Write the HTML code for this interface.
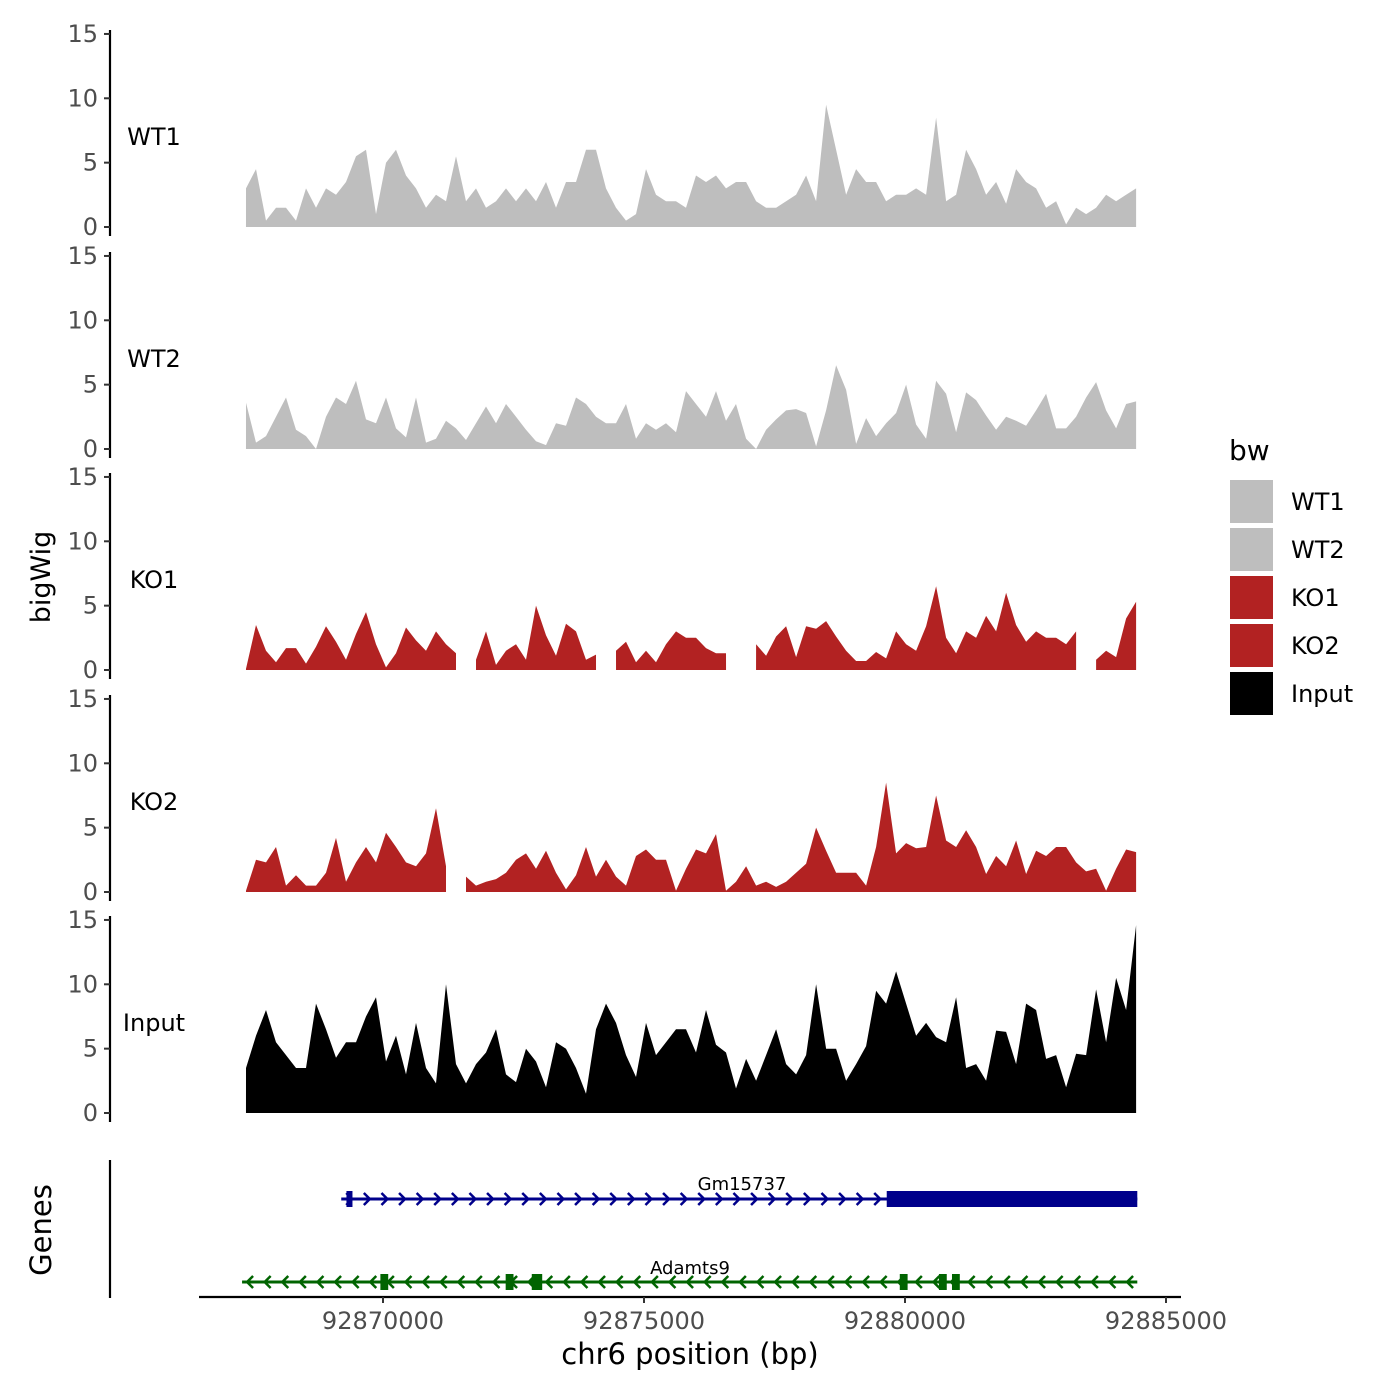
<!DOCTYPE html>
<html><head><meta charset="utf-8">
<style>
body{margin:0;background:#fff;}
svg{display:block;font-family:"DejaVu Sans","Liberation Sans",sans-serif;}
.tick{fill:#4d4d4d;font-size:24px;}
</style></head>
<body>
<svg id="chart" width="1400" height="1400" viewBox="0 0 1400 1400">
<rect width="1400" height="1400" fill="#fff"/>
<g id="tracks"></g>
<g id="genes"></g>
<text x="50" y="577" font-size="27" text-anchor="middle" transform="rotate(-90 50 577)">bigWig</text>
<text x="51" y="1230" font-size="29" text-anchor="middle" transform="rotate(-90 51 1230)">Genes</text>
<line x1="110" y1="1160" x2="110" y2="1298" stroke="#000" stroke-width="2.2"/>
<g id="xaxis"></g>
<text x="690" y="1364" font-size="29" text-anchor="middle">chr6 position (bp)</text>
<g>
<text x="1229" y="460" font-size="28">bw</text>
<g id="legend"></g>
</g>
</svg>
<script>
const trackNames = ["WT1","WT2","KO1","KO2","Input"];
const trackColors = ["#BEBEBE","#BEBEBE","#B22222","#B22222","#000000"];
const yTicks = [0,5,10,15];
const xTicks = [92870000,92875000,92880000,92885000];
const binStart = 92867375;
const binSize = 191.6;
const wt1 = [3,4.5,0.5,1.5,1.5,0.5,3,1.5,3,2.5,3.5,5.5,6,1,5,6,4,3,1.5,2.5,2,5.5,2,3,1.5,2,3,2,3,2,3.5,1.5,3.5,3.5,6,6,3,1.5,0.5,1,4.5,2.5,2,2,1.5,4,3.5,4,3,3.5,3.5,2,1.5,1.5,2,2.5,4,2,9.5,6,2.5,4.5,3.5,3.5,2,2.5,2.5,3,2.5,8.5,2,2.5,6,4.5,2.5,3.5,1.8,4.5,3.5,3,1.5,2,0.2,1.5,1,1.5,2.5,2,2.5,3];
const wt2 = [3.6,0.5,1,2.5,4,1.5,1,0,2.5,4,3.5,5.3,2.3,2,4,1.6,0.9,4,0.5,0.8,2.2,1.6,0.7,2,3.3,2,3.5,2.5,1.5,0.6,0.3,2,1.8,4,3.5,2.5,2,2,3.5,0.8,2,1.5,2,1.3,4.5,3.5,2.5,4.5,2.2,3.5,0.8,0,1.5,2.3,3,3.1,2.8,0.2,3,6.5,4.6,0.4,2.4,1,2,2.8,5,1.9,0.8,5.3,4.3,1.3,4.4,3.8,2.6,1.5,2.5,2.2,1.8,3,4.3,1.6,1.6,2.5,4,5.2,3,1.6,3.5,3.7];
const ko1 = [0.1,3.5,1.5,0.6,1.7,1.7,0.5,1.8,3.4,2.2,0.8,2.8,4.5,2,0.2,1.3,3.3,2.3,1.5,3,2,1.3,null,0.8,3,0.4,1.5,2,0.8,5,2.7,1.1,3.6,3,0.8,1.2,null,1.5,2.2,0.6,1.5,0.6,2,3,2.5,2.5,1.7,1.3,1.3,null,null,2,1.1,2.6,3.4,1,3.4,3.2,3.8,2.6,1.5,0.7,0.7,1.4,0.9,3,2,1.5,3.4,6.5,2.5,1.3,3,2.5,4.2,3,6,3.5,2.2,3,2.5,2.5,2,3,null,0.8,1.5,1,4,5.3];
const ko2 = [0.1,2.5,2.3,3.5,0.5,1.3,0.5,0.5,1.5,4.2,0.8,2.3,3.5,2.3,4.6,3.5,2.3,2,3,6.5,2,null,1.2,0.5,0.8,1,1.5,2.5,3,1.8,3.2,1.5,0.2,1.3,3.5,1.2,2.5,1.2,0.5,2.8,3.3,2.5,2.5,0.1,1.8,3.3,3,4.5,0.1,0.8,2,0.5,0.8,0.4,0.8,1.5,2.2,5,3.2,1.5,1.5,1.5,0.5,3.5,8.5,3,3.8,3.4,3.5,7.5,4,3.5,4.8,3.5,1.4,2.8,2,4,1.4,3.2,2.8,3.5,3.5,2.3,1.6,1.8,0.1,1.8,3.3,3.1];
const input = [3.5,6,8,5.5,4.5,3.5,3.5,8.5,6.5,4.3,5.5,5.5,7.5,9,4,6,3,7,3.5,2.3,10,3.8,2.3,3.8,4.7,6.5,3,2.4,5,4,2,5.5,5,3.5,1.5,6.5,8.5,7,4.5,2.8,7,4.5,5.5,6.5,6.5,4.7,8,5.3,4.7,1.9,4.2,2.5,4.5,6.5,3.8,3,4.5,10,5,5,2.5,3.8,5.2,9.5,8.5,11,8.5,6,7,5.9,5.5,9,3.5,3.8,2.5,6.4,6.3,3.8,8.5,8,4.2,4.5,2,4.6,4.5,9.6,5.5,10.5,8,14.6];
const trackValues = [wt1,wt2,ko1,ko2,input];
const geneNames = ["Gm15737","Adamts9"];
const gmStart = 92869200, gmEnd = 92884450, gmExons = [[92869300,92869400]], gmUtr = [92879650,92884450];
const adStart = 92867300, adEnd = 92884450, adExons = [[92869950,92870100],[92872350,92872500],[92872850,92873050],[92879900,92880050],[92880650,92880800],[92880900,92881050]];

const NS="http://www.w3.org/2000/svg";
function el(tag,attrs,parent){const e=document.createElementNS(NS,tag);for(const k in attrs)e.setAttribute(k,attrs[k]);parent.appendChild(e);return e;}
const xScale = bp => 383 + (bp-92870000)*0.05220;
const zeros = [227,449,670,892,1113];
const pxPerUnit = 12.87;
const tracks = document.getElementById('tracks');

trackNames.forEach((name,t)=>{
  const z = zeros[t];
  const yS = v => z - v*pxPerUnit;
  const g = el('g',{},tracks);
  
  
  const ax = el('line',{x1:110,y1:yS(15)-4,x2:110,y2:z+9,stroke:'#000','stroke-width':2.2},g);
  
  
  yTicks.forEach(v=>{
    const tk = el('line',{x1:104,x2:110,y1:yS(v),y2:yS(v),stroke:'#333','stroke-width':2},g);
    
    
    const tl = el('text',{x:98,y:yS(v)+8,'text-anchor':'end',class:'tick'},g);
    tl.textContent = v;
    
    
  });
  const lab = el('text',{x:154,y:yS(7)+8,'text-anchor':'middle','font-size':24},g);
  lab.textContent = name;
  
  
  const vals = trackValues[t];
  let seg=[];
  const segs=[];
  vals.forEach((v,i)=>{
    if(v===null){ if(seg.length) segs.push(seg); seg=[]; }
    else seg.push([xScale(binStart+i*binSize), yS(v)]);
  });
  if(seg.length) segs.push(seg);
  segs.forEach(s=>{
    let d = 'M'+s[0][0]+','+z;
    s.forEach(p=>{d+=' L'+p[0].toFixed(1)+','+p[1].toFixed(1);});
    d += ' L'+s[s.length-1][0]+','+z+' Z';
    const a = el('path',{d:d,fill:trackColors[t]},g);
    
    
  });
});

const gg = document.getElementById('genes');
function drawGene(name,start,end,exons,utr,y,color,dir,labelX,labelY){
  const g = el('g',{},gg);
  
  
  const x1=xScale(start), x2=xScale(end);
  el('line',{x1:x1,x2:x2,y1:y,y2:y,stroke:color,'stroke-width':3},g);
  for(let x=x1+8;x<x2-5;x+=17.6){
    const d = dir>0 ? `M${x-3},${y-6} L${x+3},${y} L${x-3},${y+6}` : `M${x+3},${y-6} L${x-3},${y} L${x+3},${y+6}`;
    el('path',{d:d,fill:'none',stroke:color,'stroke-width':2.5},g);
  }
  exons.forEach(e=>{
    const ex = el('rect',{x:xScale(e[0]),y:y-8,width:Math.max(6,xScale(e[1])-xScale(e[0])),height:16,fill:color},g);
    
    
  });
  if(utr){
    const u = el('rect',{x:xScale(utr[0]),y:y-8,width:xScale(utr[1])-xScale(utr[0]),height:16,fill:color},g);
    
    
  }
  const t = el('text',{x:labelX,y:labelY,'text-anchor':'middle','font-size':18},g);
  t.textContent = name;
  
  
}
drawGene(geneNames[0],gmStart,gmEnd,gmExons,gmUtr,1199,'#00008B',1,742,1190);
drawGene(geneNames[1],adStart,adEnd,adExons,null,1282,'#006400',-1,690,1274);

const xa = document.getElementById('xaxis');
el('line',{x1:199,x2:1181,y1:1297,y2:1297,stroke:'#000','stroke-width':2.2},xa);
xTicks.forEach(v=>{
  const x=xScale(v);
  const tk=el('line',{x1:x,x2:x,y1:1297,y2:1303,stroke:'#333','stroke-width':2},xa);
  
  
  const tl=el('text',{x:x,y:1329,'text-anchor':'middle',class:'tick'},xa);
  tl.textContent=v;
  
  
});

const lg=document.getElementById('legend');
trackNames.forEach((n,i)=>{
  const y=480+i*48;
  const r=el('rect',{x:1230,y:y,width:43,height:43,fill:trackColors[i]},lg);
  
  
  const t=el('text',{x:1291,y:y+30,'font-size':24},lg);
  t.textContent=n;
  
  
});
</script>
</body></html>
